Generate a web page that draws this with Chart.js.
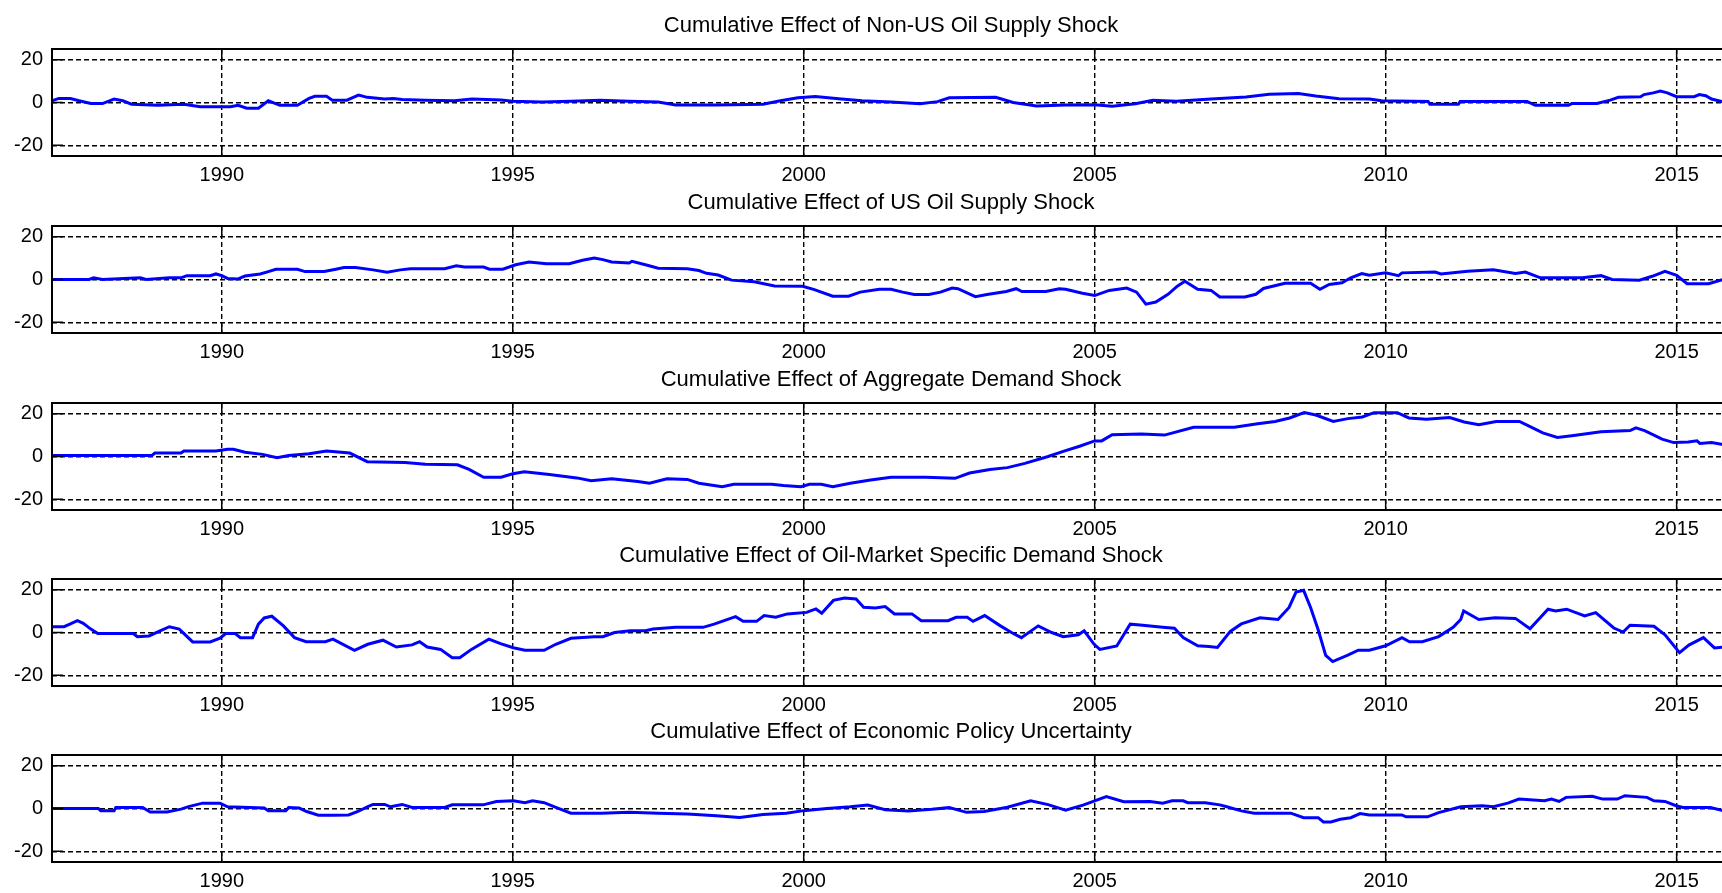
<!DOCTYPE html>
<html>
<head>
<meta charset="utf-8">
<title>Cumulative Effects</title>
<script src="https://cdn.jsdelivr.net/npm/chart.js@4.4.1/dist/chart.umd.min.js"></script>
<style>
  html, body { margin: 0; padding: 0; background: #fff; overflow: hidden; }
  body { width: 1722px; height: 893px; position: relative; }
  canvas { position: absolute; left: 0; }
</style>
</head>
<body>
<canvas id="p0" width="1730" height="189"></canvas>
<canvas id="p1" width="1730" height="189"></canvas>
<canvas id="p2" width="1730" height="189"></canvas>
<canvas id="p3" width="1730" height="189"></canvas>
<canvas id="p4" width="1730" height="189"></canvas>
<script>
// axis setup
const xRange = [1987.083, 2015.917];
const yRange = [-25, 25];
const xTicks = [1990, 1995, 2000, 2005, 2010, 2015];
const yTicks = [-20, 0, 20];

const titles = [
    'Cumulative Effect of Non-US Oil Supply Shock',
    'Cumulative Effect of US Oil Supply Shock',
    'Cumulative Effect of Aggregate Demand Shock',
    'Cumulative Effect of Oil-Market Specific Demand Shock',
    'Cumulative Effect of Economic Policy Uncertainty'
];

// [year, value]
const nonUsSupply = [
    [1987.08, 0.8], [1987.2, 1.9], [1987.4, 1.9], [1987.55, 0.8], [1987.75, -0.5], [1987.95, -0.5],
    [1988.15, 1.6], [1988.3, 0.8], [1988.45, -0.8], [1988.9, -1.3], [1989.35, -0.8], [1989.63, -2],
    [1990.15, -2], [1990.28, -1.3], [1990.43, -2.7], [1990.63, -2.7], [1990.8, 0.8], [1991.0, -1.3],
    [1991.3, -1.3], [1991.5, 1.9], [1991.6, 2.9], [1991.8, 2.9], [1991.9, 1.1], [1992.15, 1.1],
    [1992.3, 2.9], [1992.35, 3.5], [1992.5, 2.4], [1992.8, 1.6], [1992.95, 1.9], [1993.1, 1.4],
    [1993.5, 1.0], [1994.0, 0.8], [1994.3, 1.6], [1994.8, 1.2], [1995.0, 0.6], [1995.5, 0.2],
    [1996.0, 0.6], [1996.5, 1.0], [1997.0, 0.6], [1997.5, 0.2], [1997.8, -1.2], [1998.5, -1.2],
    [1999.3, -0.8], [1999.6, 0.8], [1999.9, 2.2], [2000.2, 2.8], [2000.6, 1.8], [2001.0, 0.8],
    [2001.5, 0.2], [2002.0, -0.6], [2002.3, 0.4], [2002.5, 2.2], [2003.3, 2.4], [2003.6, 0],
    [2004.0, -1.6], [2004.5, -1.2], [2005.0, -1.0], [2005.3, -1.8], [2005.7, -0.6], [2006.0, 1.0],
    [2006.4, 0.6], [2007.0, 1.6], [2007.6, 2.6], [2008.0, 3.8], [2008.5, 4.2], [2008.8, 3.0],
    [2009.2, 1.8], [2009.72, 1.6], [2009.93, 0.8], [2010.73, 0.5], [2010.76, -0.8], [2011.25, -0.8],
    [2011.28, 0.5], [2012.43, 0.5], [2012.57, -1.3], [2013.14, -1.3], [2013.2, -0.5], [2013.63, -0.5],
    [2013.86, 1.1], [2014.0, 2.4], [2014.38, 2.7], [2014.44, 3.7], [2014.6, 4.5], [2014.72, 5.3],
    [2014.84, 4.5], [2015.0, 2.7], [2015.3, 2.7], [2015.39, 3.7], [2015.5, 3.2], [2015.6, 1.6],
    [2015.92, -0.5]
];

const usSupply = [
    [1987.08, 0], [1987.72, 0], [1987.8, 0.8], [1987.95, 0], [1988.6, 0.8], [1988.7, 0],
    [1989.1, 0.8], [1989.3, 0.8], [1989.4, 1.8], [1989.8, 1.8], [1989.9, 2.6], [1990.0, 1.8],
    [1990.1, 0.5], [1990.27, 0.2], [1990.4, 1.6], [1990.66, 2.6], [1990.8, 3.7], [1990.93, 4.8],
    [1991.3, 4.8], [1991.43, 3.7], [1991.76, 3.7], [1991.96, 4.8], [1992.1, 5.6], [1992.3, 5.6],
    [1992.6, 4.5], [1992.84, 3.4], [1993.07, 4.5], [1993.24, 5], [1993.83, 5], [1994.03, 6.4],
    [1994.17, 5.8], [1994.5, 5.8], [1994.6, 4.8], [1994.83, 4.8], [1995.05, 6.9], [1995.28, 8.2],
    [1995.58, 7.4], [1995.97, 7.4], [1996.2, 9], [1996.4, 10], [1996.55, 9.3], [1996.7, 8.2],
    [1997.0, 7.7], [1997.05, 8.5], [1997.28, 6.9], [1997.5, 5.3], [1998.0, 5], [1998.2, 4.2],
    [1998.33, 2.9], [1998.53, 2.1], [1998.76, -0.3], [1999.15, -1.1], [1999.5, -3], [1999.98, -3.2],
    [2000.17, -4.6], [2000.5, -7.8], [2000.77, -7.8], [2000.97, -5.9], [2001.3, -4.6], [2001.5, -4.6],
    [2001.7, -5.9], [2001.9, -7], [2002.15, -7], [2002.35, -5.9], [2002.55, -4], [2002.65, -4.3],
    [2002.95, -8], [2003.15, -7], [2003.48, -5.6], [2003.65, -4.3], [2003.75, -5.6], [2004.16, -5.6],
    [2004.39, -4.3], [2004.5, -4.6], [2004.79, -6.4], [2005.0, -7.5], [2005.25, -5.1], [2005.55, -4],
    [2005.72, -5.9], [2005.88, -11.5], [2006.05, -10.5], [2006.26, -6.9], [2006.42, -3.1], [2006.55, -0.8],
    [2006.77, -4.6], [2007.0, -5.1], [2007.15, -8.2], [2007.58, -8.2], [2007.77, -6.9], [2007.9, -4.2],
    [2008.27, -1.8], [2008.71, -1.8], [2008.87, -4.6], [2009.03, -2.3], [2009.25, -1.5], [2009.4, 0.8],
    [2009.59, 2.8], [2009.72, 2], [2010.0, 3.1], [2010.22, 1.8], [2010.28, 3.1], [2010.85, 3.5],
    [2010.95, 2.6], [2011.41, 3.8], [2011.85, 4.6], [2012.23, 2.8], [2012.4, 3.5], [2012.66, 0.8],
    [2013.38, 0.8], [2013.7, 1.8], [2013.89, 0], [2014.36, -0.3], [2014.58, 1.5], [2014.8, 3.8],
    [2015.0, 2], [2015.18, -2], [2015.55, -2], [2015.92, 1]
];

const aggDemand = [
    [1987.08, 0.5], [1988.8, 0.5], [1988.85, 1.6], [1989.3, 1.6], [1989.35, 2.6], [1989.9, 2.6],
    [1990.1, 3.4], [1990.2, 3.4], [1990.4, 2], [1990.7, 1], [1990.95, -0.6], [1991.15, 0.5],
    [1991.5, 1.3], [1991.8, 2.6], [1992.2, 1.6], [1992.5, -2.4], [1993.15, -2.8], [1993.5, -3.6],
    [1994.05, -3.9], [1994.25, -6], [1994.5, -9.7], [1994.8, -9.7], [1995.0, -8.1], [1995.2, -7.1],
    [1995.63, -8.4], [1996.1, -10], [1996.35, -11.3], [1996.7, -10.4], [1997.15, -11.7], [1997.35, -12.5],
    [1997.65, -10.4], [1998.0, -10.7], [1998.2, -12.5], [1998.6, -14.1], [1998.8, -13], [1999.45, -13],
    [1999.65, -13.6], [1999.95, -14.1], [2000.1, -13], [2000.3, -13], [2000.5, -14.1], [2000.8, -12.5],
    [2001.15, -11], [2001.5, -9.7], [2002.1, -9.7], [2002.6, -10.2], [2002.85, -7.7], [2003.2, -6.1],
    [2003.5, -5.2], [2003.8, -3.2], [2004.2, 0], [2004.46, 2.4], [2004.74, 4.8], [2005.0, 7.3],
    [2005.12, 7.3], [2005.3, 10.2], [2005.8, 10.5], [2006.2, 10], [2006.7, 13.7], [2007.4, 13.7],
    [2007.8, 15.3], [2008.1, 16.4], [2008.35, 18], [2008.6, 20.5], [2008.8, 19.4], [2009.1, 16.4],
    [2009.35, 17.7], [2009.6, 18.5], [2009.8, 20.5], [2010.2, 20.5], [2010.4, 18], [2010.7, 17.4],
    [2011.1, 18.2], [2011.35, 16.1], [2011.6, 14.8], [2011.9, 16.4], [2012.3, 16.4], [2012.5, 13.7],
    [2012.7, 11], [2012.95, 8.9], [2013.2, 9.7], [2013.7, 11.6], [2014.2, 12.1], [2014.3, 13.4],
    [2014.45, 12.1], [2014.75, 8.1], [2014.95, 6.5], [2015.2, 6.8], [2015.35, 7.3], [2015.4, 6.1],
    [2015.6, 6.5], [2015.92, 5]
];

const oilDemand = [
    [1987.08, 2.7], [1987.29, 2.7], [1987.39, 3.9], [1987.52, 5.5], [1987.62, 4.3], [1987.75, 1.6],
    [1987.87, -0.5], [1988.48, -0.5], [1988.55, -2], [1988.75, -1.6], [1988.94, 0.8], [1989.1, 2.7],
    [1989.27, 1.6], [1989.5, -4.4], [1989.8, -4.4], [1989.97, -2.7], [1990.07, -0.5], [1990.23, -0.5],
    [1990.32, -2.4], [1990.53, -2.4], [1990.63, 3.9], [1990.73, 6.8], [1990.86, 7.6], [1991.06, 3.1],
    [1991.25, -2.4], [1991.45, -4.3], [1991.78, -4.3], [1991.91, -3.1], [1992.28, -8.3], [1992.51, -5.5],
    [1992.77, -3.6], [1993.0, -6.8], [1993.27, -5.8], [1993.4, -4.3], [1993.53, -6.8], [1993.76, -7.9],
    [1993.96, -11.8], [1994.09, -11.8], [1994.29, -7.9], [1994.59, -3.1], [1994.79, -5.2], [1995.01, -7.1],
    [1995.21, -8.3], [1995.54, -8.3], [1995.74, -5.5], [1996.0, -2.7], [1996.4, -2], [1996.55, -2],
    [1996.75, 0], [1997.02, 0.8], [1997.28, 0.8], [1997.41, 1.6], [1997.8, 2.4], [1998.27, 2.4],
    [1998.46, 3.9], [1998.83, 7.4], [1998.96, 5.2], [1999.19, 5.2], [1999.32, 7.9], [1999.52, 7.1],
    [1999.72, 8.7], [2000.05, 9.4], [2000.21, 11], [2000.31, 9], [2000.51, 15], [2000.7, 16.1],
    [2000.9, 15.7], [2001.03, 11.8], [2001.23, 11.5], [2001.4, 12.1], [2001.56, 8.7], [2001.86, 8.7],
    [2002.02, 5.5], [2002.48, 5.5], [2002.62, 7.1], [2002.81, 7.1], [2002.91, 5.2], [2003.11, 7.9],
    [2003.38, 3.1], [2003.57, 0], [2003.74, -2.4], [2004.03, 3.1], [2004.26, 0], [2004.46, -2],
    [2004.72, -1.1], [2004.82, 0.8], [2004.99, -5.5], [2005.09, -7.9], [2005.38, -6.3], [2005.61, 3.9],
    [2005.78, 3.5], [2006.17, 2.5], [2006.37, 2], [2006.52, -2.4], [2006.77, -6.2], [2006.96, -6.5],
    [2007.11, -7], [2007.33, 0.5], [2007.52, 4], [2007.84, 6.9], [2008.15, 6.1], [2008.34, 11.7],
    [2008.46, 18.9], [2008.59, 19.7], [2008.71, 11.7], [2008.84, 1.3], [2008.97, -10.7], [2009.09, -13.6],
    [2009.34, -10.7], [2009.53, -8.3], [2009.72, -8.3], [2010.0, -6.2], [2010.28, -2.4], [2010.41, -4.3],
    [2010.63, -4.3], [2010.91, -1.9], [2011.16, 2.4], [2011.29, 6.1], [2011.34, 10.1], [2011.6, 6.1],
    [2011.88, 6.9], [2012.23, 6.6], [2012.48, 1.8], [2012.79, 10.9], [2012.92, 10.1], [2013.11, 10.9],
    [2013.42, 7.7], [2013.61, 9.3], [2013.92, 2.1], [2014.08, 0.2], [2014.2, 3.4], [2014.61, 2.9],
    [2014.8, -1.1], [2015.05, -9.4], [2015.21, -5.9], [2015.46, -2.4], [2015.65, -7.2], [2015.92, -6.5]
];

const policyUncertainty = [
    [1987.08, 0], [1987.88, 0], [1987.92, -1.1], [1988.15, -1.1], [1988.18, 0.5], [1988.64, 0.5],
    [1988.77, -1.6], [1989.06, -1.6], [1989.3, -0.3], [1989.43, 0.9], [1989.67, 2.5], [1989.97, 2.5],
    [1990.1, 0.8], [1990.73, 0.2], [1990.8, -1.1], [1991.1, -1.1], [1991.15, 0.5], [1991.33, 0.2],
    [1991.46, -1.4], [1991.66, -3.1], [1991.91, -3.1], [1992.18, -3], [1992.34, -1.4], [1992.5, 0.8],
    [1992.6, 1.9], [1992.8, 1.9], [1992.9, 0.8], [1993.1, 1.9], [1993.27, 0.5], [1993.83, 0.5],
    [1993.96, 1.7], [1994.49, 1.7], [1994.72, 3.3], [1995.01, 3.6], [1995.21, 2.7], [1995.34, 3.6],
    [1995.54, 2.7], [1995.74, 0.5], [1996.0, -2.2], [1996.52, -2.2], [1997.0, -1.8], [1997.5, -2.2],
    [1998.0, -2.6], [1998.5, -3.4], [1998.9, -4.2], [1999.3, -2.8], [1999.7, -2.2], [2000.0, -1.0],
    [2000.4, 0], [2000.8, 0.8], [2001.1, 1.6], [2001.4, -0.6], [2001.8, -1.2], [2002.2, -0.4],
    [2002.5, 0.4], [2002.8, -1.8], [2003.1, -1.4], [2003.5, 0.6], [2003.9, 3.6], [2004.2, 1.8],
    [2004.5, -0.8], [2004.8, 1.6], [2005.0, 3.6], [2005.2, 5.6], [2005.5, 3.2], [2005.95, 3.3],
    [2006.17, 2.5], [2006.33, 3.6], [2006.52, 3.6], [2006.6, 2.7], [2006.9, 2.7], [2007.15, 1.7],
    [2007.27, 0.8], [2007.52, -1.1], [2007.74, -2.2], [2008.37, -2.2], [2008.59, -4.3], [2008.84, -4.3],
    [2008.93, -6.3], [2009.06, -6.3], [2009.22, -5], [2009.4, -4.3], [2009.56, -2.4], [2009.72, -3],
    [2010.28, -3], [2010.35, -3.9], [2010.72, -3.9], [2010.91, -1.9], [2011.29, 0.8], [2011.66, 1.3],
    [2011.85, 0.8], [2012.1, 2.5], [2012.29, 4.4], [2012.73, 3.6], [2012.85, 4.4], [2012.98, 3.3],
    [2013.1, 5.2], [2013.55, 5.7], [2013.73, 4.4], [2013.98, 4.4], [2014.11, 6], [2014.49, 5.2],
    [2014.61, 3.6], [2014.8, 3.3], [2014.99, 1.3], [2015.11, 0.5], [2015.58, 0.5], [2015.92, -1.8]
];

const series = [nonUsSupply, usSupply, aggDemand, oilDemand, policyUncertainty];

// top edge of each plot box, page px
const panelTops = [49, 226, 403, 579, 755];
const fontFamily = '"Liberation Sans", Arial, sans-serif';

// MATLAB-ish box with inward tick marks
const framePlugin = {
    id: 'frame',
    afterDatasetsDraw(chart) {
        const { ctx, chartArea: a, scales: { x, y } } = chart;
        ctx.save();
        ctx.strokeStyle = '#000';
        ctx.lineWidth = 1.5;
        ctx.beginPath();
        xTicks.forEach(v => {
            const px = x.getPixelForValue(v);
            ctx.moveTo(px, a.bottom); ctx.lineTo(px, a.bottom - 11);
            ctx.moveTo(px, a.top); ctx.lineTo(px, a.top + 11);
        });
        yTicks.forEach(v => {
            const py = y.getPixelForValue(v);
            ctx.moveTo(a.left, py); ctx.lineTo(a.left + 11, py);
        });
        ctx.stroke();
        ctx.lineWidth = 2;
        ctx.strokeRect(a.left, a.top, a.right - a.left + 10, a.bottom - a.top);
        ctx.restore();
    }
};

series.forEach((s, i) => {
    const canvas = document.getElementById('p' + i);
    canvas.style.top = (panelTops[i] - 47) + 'px';
    new Chart(canvas, {
        type: 'line',
        data: {
            datasets: [{
                data: s.map(([x, y]) => ({ x, y })),
                borderColor: '#0000ff',
                borderWidth: 3,
                pointRadius: 0,
                tension: 0
            }]
        },
        options: {
            responsive: false,
            animation: false,
            events: [],
            layout: { padding: 0 },
            plugins: {
                legend: { display: false },
                tooltip: { enabled: false },
                title: {
                    display: true,
                    fullSize: false, // centre over the plot box, not the canvas
                    text: titles[i],
                    color: '#000',
                    font: { family: fontFamily, size: 22, weight: 'normal', lineHeight: 1.2 },
                    padding: { top: 10.8, bottom: 9.8 }
                }
            },
            scales: {
                x: {
                    type: 'linear',
                    min: xRange[0],
                    max: xRange[1],
                    afterBuildTicks: sc => { sc.ticks = xTicks.map(v => ({ value: v })); },
                    afterFit: sc => { sc.height = 35; },
                    ticks: {
                        callback: v => String(v),
                        color: '#000',
                        font: { family: fontFamily, size: 20 },
                        padding: 7,
                        maxRotation: 0,
                        autoSkip: false
                    },
                    grid: { color: '#000', lineWidth: 1.4, drawTicks: false },
                    border: { display: false, dash: [5, 3] }
                },
                y: {
                    min: yRange[0],
                    max: yRange[1],
                    afterBuildTicks: sc => { sc.ticks = yTicks.map(v => ({ value: v })); },
                    afterFit: sc => { sc.width = 52; },
                    ticks: {
                        callback: v => String(v),
                        color: '#000',
                        font: { family: fontFamily, size: 20 },
                        padding: 9
                    },
                    grid: { color: '#000', lineWidth: 1.4, drawTicks: false },
                    border: { display: false, dash: [5, 3] }
                }
            }
        },
        plugins: [framePlugin]
    });
});
</script>
</body>
</html>
